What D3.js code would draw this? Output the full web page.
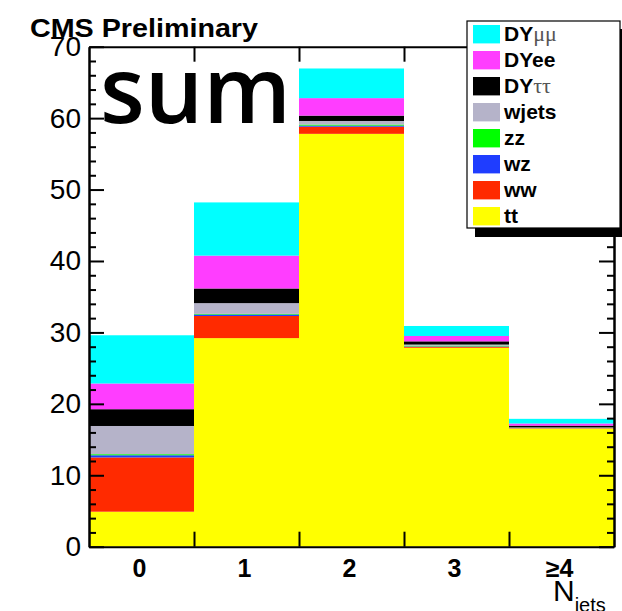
<!DOCTYPE html>
<html>
<head>
<meta charset="utf-8">
<script src="https://cdn.jsdelivr.net/npm/d3@7"></script>
<style>
  body { margin: 0; background: #fff; }
  svg { display: block; }
</style>
</head>
<body>
<div id="fig-njets"></div>
<script>
let figName = 'fig-njets';

let width = 622;
let height = 611;

// jet multiplicity bins and stacked samples (bottom to top)
let categories = ['0', '1', '2', '3', '≥4'];
let tt    = [4.9, 29.2, 57.8, 27.85, 16.55];
let ww    = [7.6, 3.1, 1.0, 0.15, 0.05];
let wz    = [0.3, 0.2, 0.15, 0.05, 0.02];
let zz    = [0.15, 0.1, 0.15, 0.1, 0.03];
let wjets = [3.95, 1.5, 0.5, 0.15, 0.05];
let dytt  = [2.35, 2.05, 0.75, 0.45, 0.25];
let dyee  = [3.6, 4.6, 2.45, 0.75, 0.3];
let dymm  = [6.75, 7.45, 4.15, 1.4, 0.65];

let sampleKeys = ['tt', 'ww', 'wz', 'zz', 'wjets', 'dytt', 'dyee', 'dymm'];
let sampleValues = [tt, ww, wz, zz, wjets, dytt, dyee, dymm];
let sampleColors = ['#ffff00', '#ff2a00', '#1f3dff', '#00ff00', '#b5b3c9', '#000000', '#ff3dff', '#00ffff'];
let yTicks = [0, 10, 20, 30, 40, 50, 60, 70];

let plot = {left: 89, right: 614, top: 46.7, bottom: 546.7};

let table = categories.map((c, i) => {
    let row = {cat: c};
    sampleKeys.forEach((k, j) => row[k] = sampleValues[j][i]);
    return row;
});

let svg = d3.select(`div#${figName}`).append('svg')
    .attr('width', width)
    .attr('height', height)
    .style('font-family', '"Liberation Sans", Arial, Helvetica, sans-serif');

let x = d3.scaleBand()
    .domain(categories)
    .range([plot.left, plot.right])
    .padding(0);

// bin edges, for the ticks
let xEdge = d3.scaleLinear()
    .domain([0, categories.length])
    .range([plot.left, plot.right]);

let y = d3.scaleLinear()
    .domain([0, 70])
    .range([plot.bottom, plot.top]);

let color = d3.scaleOrdinal().domain(sampleKeys).range(sampleColors);

let stack = d3.stack().keys(sampleKeys);
let series = stack(table);

svg.append('g')
  .selectAll('g')
  .data(series)
  .join('g')
    .attr('fill', d => color(d.key))
  .selectAll('rect')
  .data(d => d)
  .join('rect')
    .attr('x', d => x(d.data.cat))
    .attr('y', d => y(d[1]))
    .attr('width', x.bandwidth())
    .attr('height', d => y(d[0]) - y(d[1]));

// axes
function styleAxis(g) {
    g.selectAll('.domain').attr('stroke-width', 2);
    g.selectAll('.tick line').attr('stroke-width', 2);
}

let minorTicks = d3.range(0, 71, 2).filter(v => v % 10 != 0);

svg.append('g')
    .attr('transform', `translate(${plot.left},0)`)
    .call(d3.axisLeft(y).tickValues(minorTicks).tickSizeInner(-7).tickSizeOuter(0).tickFormat(''))
    .call(styleAxis);

svg.append('g')
    .attr('transform', `translate(${plot.left},0)`)
    .call(d3.axisLeft(y).tickValues(yTicks).tickSizeInner(-15).tickSizeOuter(0).tickPadding(8))
    .call(styleAxis)
    .call(g => g.selectAll('text')
        .attr('font-size', 28)
        .attr('font-family', '"Liberation Sans", Arial, sans-serif')
        .attr('fill', '#000'));

svg.append('g')
    .attr('transform', `translate(${plot.right},0)`)
    .call(d3.axisRight(y).tickValues(minorTicks).tickSizeInner(-7).tickSizeOuter(0).tickFormat(''))
    .call(styleAxis);

svg.append('g')
    .attr('transform', `translate(${plot.right},0)`)
    .call(d3.axisRight(y).tickValues(yTicks).tickSizeInner(-15).tickSizeOuter(0).tickFormat(''))
    .call(styleAxis);

svg.append('g')
    .attr('transform', `translate(0,${plot.bottom})`)
    .call(d3.axisBottom(xEdge).tickValues([1, 2, 3, 4]).tickSizeInner(-15).tickSizeOuter(0).tickFormat(''))
    .call(styleAxis);

svg.append('g')
    .attr('transform', `translate(0,${plot.top})`)
    .call(d3.axisTop(xEdge).tickValues([1, 2, 3, 4]).tickSizeInner(-15).tickSizeOuter(0).tickFormat(''))
    .call(styleAxis);

svg.append('g')
    .attr('transform', `translate(-2,${plot.bottom})`)
    .call(d3.axisBottom(x).tickSize(0).tickPadding(13))
    .call(g => g.select('.domain').remove())
    .call(g => g.selectAll('text')
        .attr('font-size', 25)
        .attr('font-weight', 'bold')
        .attr('font-family', '"Liberation Sans", Arial, sans-serif')
        .attr('fill', '#000'));

// axis title
let xTitle = svg.append('text')
    .attr('x', 553)
    .attr('y', 601)
    .attr('font-size', 30);
xTitle.append('tspan').text('N');
xTitle.append('tspan')
    .attr('font-size', 20)
    .attr('dy', 11)
    .text('jets');

// header texts
svg.append('text')
    .attr('x', 30)
    .attr('y', 37)
    .attr('font-size', 26)
    .attr('font-weight', 'bold')
    .attr('textLength', 228)
    .attr('lengthAdjust', 'spacingAndGlyphs')
    .text('CMS Preliminary');

svg.append('text')
    .attr('x', 100)
    .attr('y', 123)
    .attr('font-size', 92)
    .attr('font-weight', 600)
    .attr('font-family', '"Open Sans", "Noto Sans", sans-serif')
    .text('sum');

// legend
let legendItems = [
    {key: 'dymm', label: 'DY', sub: 'μμ'},
    {key: 'dyee', label: 'DYee', sub: ''},
    {key: 'dytt', label: 'DY', sub: 'ττ'},
    {key: 'wjets', label: 'wjets', sub: ''},
    {key: 'zz', label: 'zz', sub: ''},
    {key: 'wz', label: 'wz', sub: ''},
    {key: 'ww', label: 'ww', sub: ''},
    {key: 'tt', label: 'tt', sub: ''}
];

let legend = svg.append('g');

legend.append('rect')
    .attr('x', 475)
    .attr('y', 29)
    .attr('width', 160)
    .attr('height', 208)
    .attr('fill', '#000');

legend.append('rect')
    .attr('x', 467)
    .attr('y', 21)
    .attr('width', 153)
    .attr('height', 207)
    .attr('fill', '#fff')
    .attr('stroke', '#000')
    .attr('stroke-width', 1.2);

let rows = legend.selectAll('g.row')
    .data(legendItems)
    .join('g')
      .attr('class', 'row')
      .attr('transform', (d, i) => `translate(0,${34.2 + i * 26})`);

rows.append('rect')
    .attr('x', 473)
    .attr('y', -9.2)
    .attr('width', 27)
    .attr('height', 18.4)
    .attr('fill', d => color(d.key));

let labels = rows.append('text')
    .attr('x', 504)
    .attr('y', 7)
    .attr('font-size', 21)
    .attr('font-weight', 'bold');
labels.append('tspan').text(d => d.label);
labels.append('tspan')
    .attr('font-family', '"Liberation Serif", "DejaVu Serif", serif')
    .attr('font-weight', 'normal')
    .attr('font-size', 22)
    .attr('fill', '#555')
    .text(d => d.sub);
</script>
</body>
</html>
